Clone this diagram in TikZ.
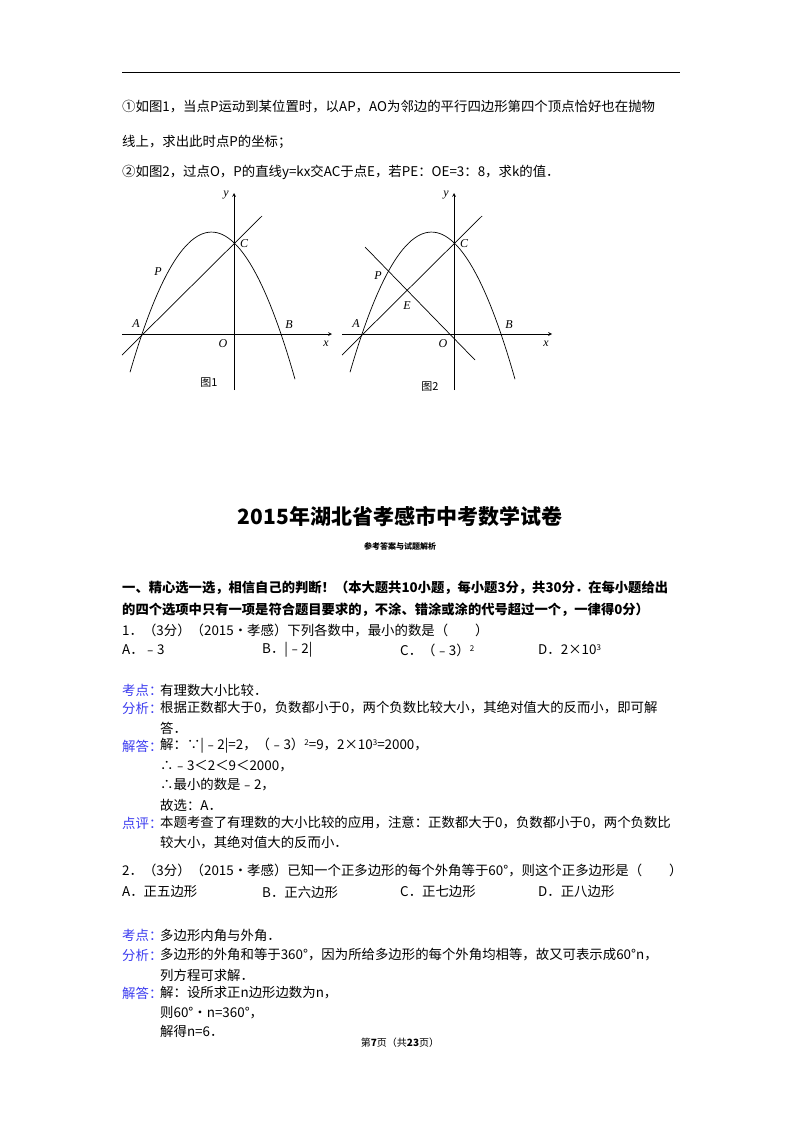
\documentclass[tikz,border=0pt]{standalone}
\usepackage{fontspec}
\setmainfont{Liberation Serif}
\newfontfamily\cjk{Noto Sans CJK SC}
\definecolor{lab}{RGB}{60,60,240}
\begin{document}
\begin{tikzpicture}[x=1pt,y=-1pt,
  t/.style={anchor=west,inner sep=0pt,font=\cjk\fontsize{13.4}{15}\selectfont},
  lb/.style={t,text=lab},
  crv/.style={line width=0.7pt},
  ax/.style={line width=0.7pt,-stealth},
  pl/.style={font=\itshape\fontsize{12}{14}\selectfont,inner sep=1pt}]
\useasboundingbox (0,0) rectangle (800,1132);
\fill[white] (0,0) rectangle (800,1132);
\draw[line width=0.8pt] (122,72) -- (680,72);
\node[t] (l1) at (122,107) {①如图1，当点P运动到某位置时，以AP，AO为邻边的平行四边形第四个顶点恰好也在抛物};
\node[t] (l2) at (122,142) {线上，求出此时点P的坐标；};
\node[t] (l3) at (122,172) {②如图2，过点O，P的直线y=kx交AC于点E，若PE：OE=3：8，求k的值．};
\foreach \s/\n in {0/1,220/2}{
\begin{scope}[xshift=\s pt]
\draw[ax] (122,334) -- (332,334);
\draw[ax] (234,390) -- (234,193);
\draw[crv,domain=130:295,samples=60] plot (\x,{334-0.0211*(\x-142)*(281-\x)});
\draw[crv] (122,355) -- (262,216);
\node[pl] at (326,344) {x};
\node[pl] at (226,195) {y};
\node[pl] at (223,344) {O};
\node[pl] at (136,324) {A};
\node[pl] at (289,325) {B};
\node[pl] at (244,244) {C};
\end{scope}}
\node[pl] at (158,272) {P};
\node[pl] at (378,276) {P};
\node[pl] at (407,306) {E};
\draw[crv] (365,247) -- (475,360);
\node[font=\cjk\fontsize{11}{12}\selectfont] at (209,383) {图1};
\node[font=\cjk\fontsize{11}{12}\selectfont] at (430,387) {图2};
\node[font=\cjk\bfseries\fontsize{21}{24}\selectfont] at (400,517) {2015年湖北省孝感市中考数学试卷};
\node[font=\cjk\bfseries\fontsize{8}{10}\selectfont] at (400,546) {参考答案与试题解析};
\node[t,font=\cjk\bfseries\fontsize{13.3}{15}\selectfont] at (122,588) {一、精心选一选，相信自己的判断！（本大题共10小题，每小题3分，共30分．在每小题给出};
\node[t,font=\cjk\bfseries\fontsize{13.3}{15}\selectfont] at (122,610) {的四个选项中只有一项是符合题目要求的，不涂、错涂或涂的代号超过一个，一律得0分）};
\node[t] at (122,630) {1．（3分）（2015•孝感）下列各数中，最小的数是（　　）};
\node[t] at (122,650) {A．﹣3};
\node[t] at (262,650) {B．|﹣2|};
\node[t] at (400,650) {C．（﹣3）\raisebox{4pt}{\fontsize{8}{9}\selectfont 2}};
\node[t] at (538,650) {D．2×10\raisebox{4pt}{\fontsize{8}{9}\selectfont 3}};
\node[lb] at (122,690) {考点：};
\node[t] at (160,690) {有理数大小比较．};
\node[lb] at (122,708) {分析：};
\node[t] at (160,708) {根据正数都大于0，负数都小于0，两个负数比较大小，其绝对值大的反而小，即可解};
\node[t] at (160,728) {答．};
\node[lb] at (122,746) {解答：};
\node[t] at (160,746) {解：∵|﹣2|=2，（﹣3）\raisebox{4pt}{\fontsize{8}{9}\selectfont 2}=9，2×10\raisebox{4pt}{\fontsize{8}{9}\selectfont 3}=2000，};
\node[t] at (160,766) {∴﹣3＜2＜9＜2000，};
\node[t] at (160,785) {∴最小的数是﹣2，};
\node[t] at (160,805) {故选：A．};
\node[lb] at (122,823) {点评：};
\node[t] at (160,823) {本题考查了有理数的大小比较的应用，注意：正数都大于0，负数都小于0，两个负数比};
\node[t] at (160,843) {较大小，其绝对值大的反而小．};
\node[t] at (122,870) {2．（3分）（2015•孝感）已知一个正多边形的每个外角等于60°，则这个正多边形是（　　）};
\node[t] at (122,892) {A．正五边形};
\node[t] at (262,892) {B．正六边形};
\node[t] at (400,892) {C．正七边形};
\node[t] at (538,892) {D．正八边形};
\node[lb] at (122,935) {考点：};
\node[t] at (160,935) {多边形内角与外角．};
\node[lb] at (122,955) {分析：};
\node[t] at (160,955) {多边形的外角和等于360°，因为所给多边形的每个外角均相等，故又可表示成60°n，};
\node[t] at (160,975) {列方程可求解．};
\node[lb] at (122,993) {解答：};
\node[t] at (160,993) {解：设所求正n边形边数为n，};
\node[t] at (160,1013) {则60°•n=360°，};
\node[t] at (160,1031) {解得n=6．};
\node[font=\cjk\fontsize{10}{12}\selectfont] at (400,1043) {第\textbf{7}页（共\textbf{23}页）};
\end{tikzpicture}
\end{document}
